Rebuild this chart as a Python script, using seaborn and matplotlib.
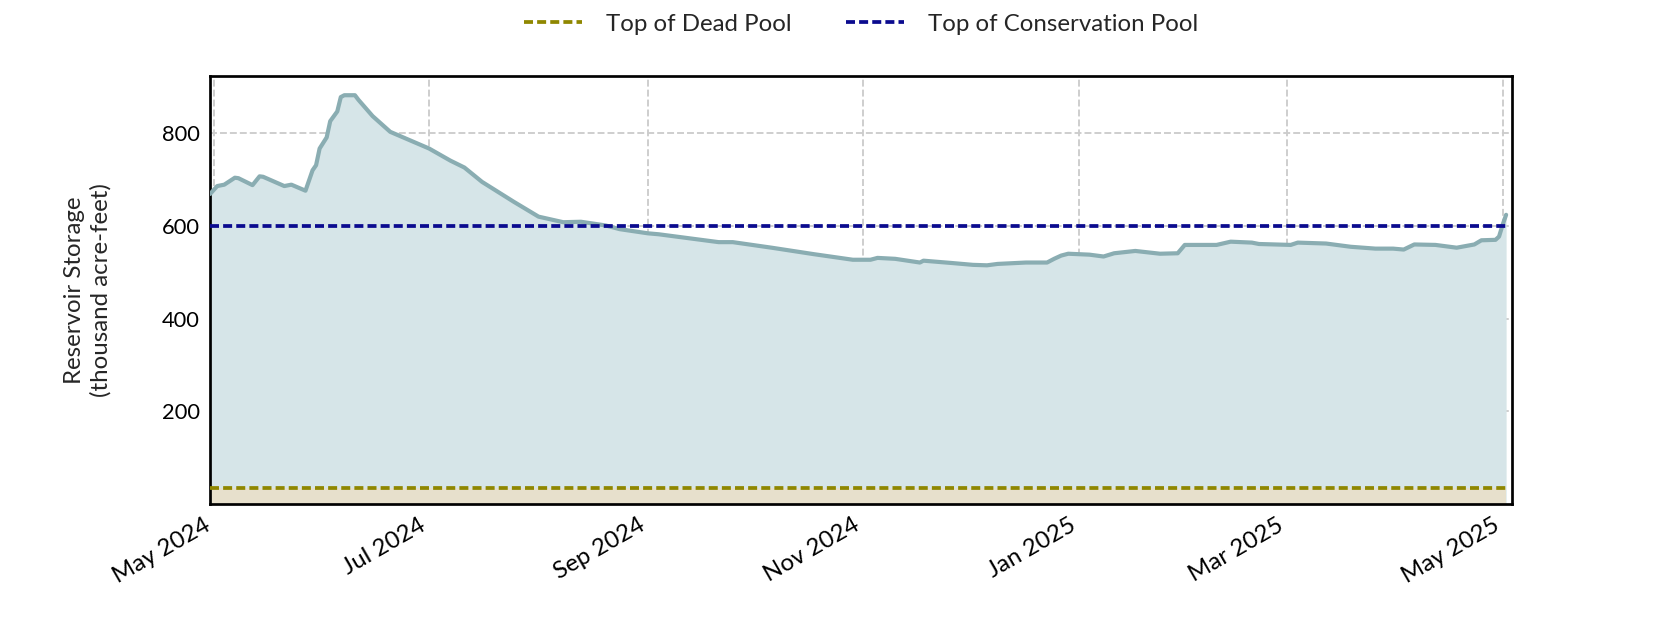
import numpy as np
import pandas as pd
import matplotlib
matplotlib.use("Agg")
import matplotlib.pyplot as plt
import matplotlib.dates as mdates
import seaborn as sns

# ---- data (thousand acre-feet) ----
dates = [
    "2024-04-30", "2024-05-02", "2024-05-04", "2024-05-07", "2024-05-08", "2024-05-12",
    "2024-05-14", "2024-05-15", "2024-05-21", "2024-05-23", "2024-05-27", "2024-05-29",
    "2024-05-30", "2024-05-31", "2024-06-02", "2024-06-03", "2024-06-05", "2024-06-06",
    "2024-06-07", "2024-06-10", "2024-06-11", "2024-06-15", "2024-06-20", "2024-07-01",
    "2024-07-07", "2024-07-11", "2024-07-16", "2024-07-25", "2024-08-01", "2024-08-08",
    "2024-08-13", "2024-08-20", "2024-08-24", "2024-09-01", "2024-09-04", "2024-09-12",
    "2024-09-21", "2024-09-25", "2024-10-06", "2024-10-18", "2024-10-29", "2024-11-03",
    "2024-11-05", "2024-11-10", "2024-11-17", "2024-11-18", "2024-11-26", "2024-12-02",
    "2024-12-06", "2024-12-09", "2024-12-17", "2024-12-23", "2024-12-25", "2024-12-27",
    "2024-12-29", "2025-01-04", "2025-01-08", "2025-01-11", "2025-01-17", "2025-01-24",
    "2025-01-29", "2025-01-31", "2025-02-09", "2025-02-13", "2025-02-19", "2025-02-21",
    "2025-03-02", "2025-03-04", "2025-03-12", "2025-03-19", "2025-03-26", "2025-03-31",
    "2025-04-03", "2025-04-06", "2025-04-12", "2025-04-18", "2025-04-23", "2025-04-25",
    "2025-04-29", "2025-04-30", "2025-05-01", "2025-05-02",
]
storage = [
    669, 686, 689, 704, 703, 688,
    707, 706, 686, 689, 676, 720,
    731, 767, 791, 826, 847, 878,
    882, 882, 872, 837, 803, 767,
    741, 726, 695, 652, 620, 608,
    609, 601, 593, 584, 582, 574,
    565, 565, 553, 539, 527, 527,
    531, 529, 521, 525, 520, 516,
    515, 518, 521, 521, 529, 536,
    540, 538, 534, 541, 546, 540,
    541, 559, 559, 566, 564, 561,
    559, 564, 562, 555, 551, 551,
    549, 560, 559, 553, 560, 569,
    570, 577, 602, 624,
]
dead_pool = 35
conservation_pool = 600
yticks = [200, 400, 600, 800]
series_labels = ["Top of Dead Pool", "Top of Conservation Pool"]

df = pd.DataFrame({"date": pd.to_datetime(dates), "storage": storage})

# ---- style ----
sns.set_theme(style="white")
plt.rcParams["font.family"] = ["Lato", "DejaVu Sans"]
plt.rcParams["font.size"] = 11

fig, ax = plt.subplots(figsize=(11.2, 4.2), dpi=150)
fig.subplots_adjust(left=0.125, right=0.9, top=0.88, bottom=0.2)

ax.fill_between(df["date"], 0, df["storage"], color="#d6e5e8", linewidth=0, zorder=1)
ax.fill_between(df["date"], 0, dead_pool, color="#e7e0cc", linewidth=0, zorder=1.1)

sns.lineplot(data=df, x="date", y="storage", ax=ax, color="#8aadb2",
             linewidth=2.0, legend=False, zorder=3)

ax.plot(df["date"], np.full(len(df), dead_pool), color="#8f8700", linewidth=1.8,
        linestyle=(0, (2.4, 1.1)), label=series_labels[0], zorder=4)
ax.plot(df["date"], np.full(len(df), conservation_pool), color="#0b0b8f", linewidth=1.8,
        linestyle=(0, (2.4, 1.1)), label=series_labels[1], zorder=4)

ax.set_xlim(df["date"].min() - pd.Timedelta(hours=1),
            df["date"].max() + pd.Timedelta(hours=40))
ax.set_ylim(0, max(storage) * 1.048)
ax.set_yticks(yticks)

ax.xaxis.set_major_locator(mdates.MonthLocator(bymonth=[1, 3, 5, 7, 9, 11]))
ax.xaxis.set_major_formatter(mdates.DateFormatter("%b %Y"))

ax.grid(True, linestyle="--", color="#cccccc", linewidth=0.9)
ax.tick_params(axis="both", which="major", length=0, pad=5, colors="black")
ax.tick_params(axis="y", labelsize=10.5)
ax.tick_params(axis="x", labelsize=11.5)
for s in ax.spines.values():
    s.set_visible(True)
    s.set_color("black")
    s.set_linewidth(1.3)

ax.set_xlabel("")
ax.set_ylabel("Reservoir Storage\n(thousand acre-feet)", fontsize=11.5, labelpad=24,
              linespacing=1.3)

plt.setp(ax.get_xticklabels(), rotation=30, ha="right")

ax.legend(loc="center", bbox_to_anchor=(0.5, 1.12), ncol=2, frameon=False,
          columnspacing=2.3, handlelength=2.4, handletextpad=1.0, fontsize=11.5)

fig.savefig("out.png", dpi=150)
